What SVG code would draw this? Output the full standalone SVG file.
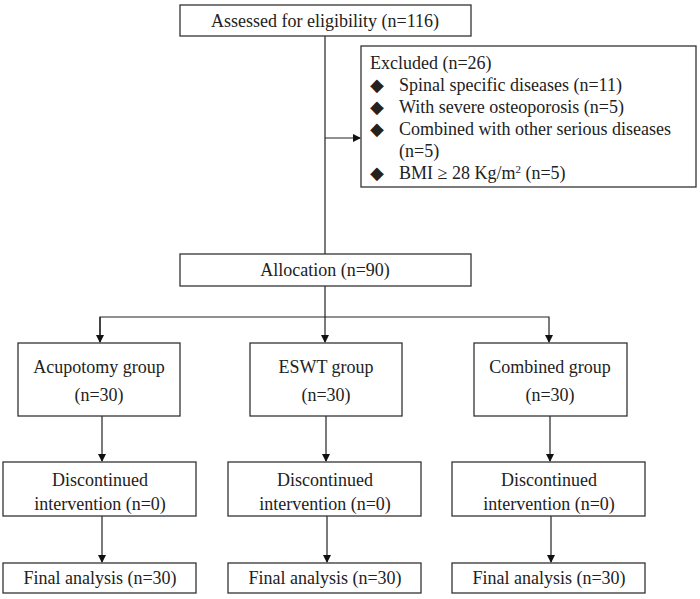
<svg xmlns="http://www.w3.org/2000/svg" width="700" height="599" viewBox="0 0 700 599">
<style>
rect{fill:#fff;stroke:#333;stroke-width:1.3}
text{font-family:"Liberation Serif","Times New Roman",serif;font-size:18px;fill:#222}
.c{text-anchor:middle}
line,polyline{stroke:#222;stroke-width:1.2;fill:none}
</style>
<defs><marker id="a" markerWidth="8" markerHeight="8" refX="7" refY="4" orient="auto" markerUnits="userSpaceOnUse"><path d="M0,0 L8,4 L0,8z" fill="#111"/></marker></defs>
<rect width="700" height="599" style="stroke:none"/>
<g id="connectors">
<line x1="325" y1="36" x2="325" y2="254"/>
<line x1="325" y1="138" x2="360" y2="138" marker-end="url(#a)"/>
<line x1="325" y1="286" x2="325" y2="342" marker-end="url(#a)"/>
<polyline points="100,342 100,317 549,317 549,342" marker-end="url(#a)"/>
<line x1="100" y1="317" x2="100" y2="342" marker-end="url(#a)"/>
<line x1="102" y1="416" x2="102" y2="461" marker-end="url(#a)"/>
<line x1="326" y1="416" x2="326" y2="461" marker-end="url(#a)"/>
<line x1="550" y1="416" x2="550" y2="461" marker-end="url(#a)"/>
<line x1="102" y1="516" x2="102" y2="562" marker-end="url(#a)"/>
<line x1="327" y1="516" x2="327" y2="562" marker-end="url(#a)"/>
<line x1="551" y1="516" x2="551" y2="562" marker-end="url(#a)"/>
</g>
<g id="n1"><rect x="180" y="5" width="291" height="31"/><text class="c" x="325" y="27">Assessed for eligibility (n=116)</text></g>
<g id="n2"><rect x="361" y="46" width="335" height="141"/>
<text x="370" y="69">Excluded (n=26)</text>
<text x="370" y="91">◆</text><text x="399" y="91">Spinal specific diseases (n=11)</text>
<text x="370" y="113">◆</text><text x="399" y="113">With severe osteoporosis (n=5)</text>
<text x="370" y="135">◆</text><text x="399" y="135">Combined with other serious diseases</text>
<text x="399" y="157">(n=5)</text>
<text x="370" y="179">◆</text><text x="399" y="179">BMI ≥ 28 Kg/m<tspan font-size="11" dy="-6">2</tspan><tspan dy="6"> (n=5)</tspan></text></g>
<g id="n3"><rect x="180" y="254" width="291" height="32"/><text class="c" x="325" y="276">Allocation (n=90)</text></g>
<g id="g1"><rect x="18" y="343" width="162" height="73"/><text class="c" x="99" y="373">Acupotomy group</text><text class="c" x="99" y="401">(n=30)</text></g>
<g id="g2"><rect x="250" y="343" width="152" height="73"/><text class="c" x="326" y="373">ESWT group</text><text class="c" x="326" y="401">(n=30)</text></g>
<g id="g3"><rect x="474" y="343" width="153" height="73"/><text class="c" x="550" y="373">Combined group</text><text class="c" x="550" y="401">(n=30)</text></g>
<g id="d1"><rect x="3" y="462" width="193" height="54"/><text class="c" x="100" y="486">Discontinued</text><text class="c" x="100" y="510">intervention (n=0)</text></g>
<g id="d2"><rect x="228" y="462" width="193" height="54"/><text class="c" x="325" y="486">Discontinued</text><text class="c" x="325" y="510">intervention (n=0)</text></g>
<g id="d3"><rect x="452" y="462" width="193" height="54"/><text class="c" x="549" y="486">Discontinued</text><text class="c" x="549" y="510">intervention (n=0)</text></g>
<g id="f1"><rect x="3" y="563" width="193" height="30"/><text class="c" x="100" y="584">Final analysis (n=30)</text></g>
<g id="f2"><rect x="228" y="563" width="193" height="30"/><text class="c" x="325" y="584">Final analysis (n=30)</text></g>
<g id="f3"><rect x="452" y="563" width="193" height="30"/><text class="c" x="549" y="584">Final analysis (n=30)</text></g>
</svg>
